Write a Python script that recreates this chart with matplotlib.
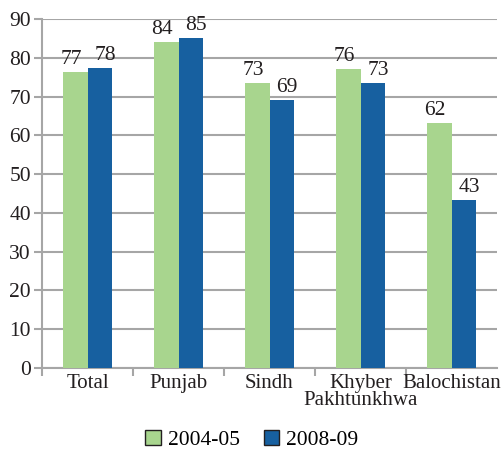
import matplotlib.pyplot as plt
import numpy as np

plt.rcParams['font.family'] = ['Liberation Serif', 'DejaVu Serif']

# data
regions = ['Total', 'Punjab', 'Sindh', 'Khyber\nPakhtunkhwa', 'Balochistan']
vals_0405 = [76.3, 84.1, 73.6, 77.1, 63.2]
vals_0809 = [77.4, 85.1, 69.1, 73.6, 43.3]
labels_0405 = ['77', '84', '73', '76', '62']
labels_0809 = ['78', '85', '69', '73', '43']
series_names = ['2004-05', '2008-09']
yticks = list(range(0, 100, 10))

green = '#a8d58e'
blue = '#1760a0'
grey = '#a6a6a6'
ink = '#231f20'
fs = 15.5

fig = plt.figure(figsize=(5.04, 4.51), dpi=100)
ax = fig.add_axes([42 / 504, 83 / 451, 455 / 504, 349 / 451])

x = np.arange(len(regions))
w = 0.265
b1 = ax.bar(x - w / 2, vals_0405, w, color=green, zorder=3, label=series_names[0])
b2 = ax.bar(x + w / 2, vals_0809, w, color=blue, zorder=3, label=series_names[1])

# value labels above each bar, nudged outward a little
for rect, lab in zip(b1, labels_0405):
    ax.annotate(lab, (rect.get_x() + rect.get_width() / 2, rect.get_height()),
                xytext=(-3, 2), textcoords='offset points',
                ha='center', va='bottom', fontsize=fs, color=ink)
for rect, lab in zip(b2, labels_0809):
    ax.annotate(lab, (rect.get_x() + rect.get_width() / 2, rect.get_height()),
                xytext=(4, 2), textcoords='offset points',
                ha='center', va='bottom', fontsize=fs, color=ink)

ax.set_xlim(-0.5, len(regions) - 0.5)
ax.set_ylim(0, 90)
ax.set_yticks(yticks)
ax.yaxis.grid(True, color=grey, linewidth=1.5, zorder=0)
ax.set_axisbelow(True)

# category ticks on the boundaries, labels in the middle
ax.set_xticks(np.arange(-0.5, len(regions) - 0.5, 1.0))
ax.set_xticklabels([])
ax.set_xticks(x, minor=True)
ax.set_xticklabels(regions, minor=True, fontsize=15, color=ink, linespacing=0.9)
ax.tick_params(axis='x', which='minor', length=0, pad=4)
ax.tick_params(axis='x', which='major', length=6, width=1.5, color=grey)
ax.tick_params(axis='y', length=6, width=1.5, color=grey, labelsize=fs,
               labelcolor=ink, pad=2)

for s in ['top', 'right']:
    ax.spines[s].set_visible(False)
for s in ['left', 'bottom']:
    ax.spines[s].set_color(grey)
    ax.spines[s].set_linewidth(1.5)

fig.legend(handles=[b1, b2], loc='center', bbox_to_anchor=(0.5, 1 - 440 / 451),
           ncol=2, frameon=False, fontsize=fs, handlelength=0.7, handleheight=0.7,
           handletextpad=0.35, columnspacing=1.1)
for p in fig.legends[0].get_patches():
    p.set_edgecolor(ink)
    p.set_linewidth(1)

fig.savefig('out.png', dpi=100)
